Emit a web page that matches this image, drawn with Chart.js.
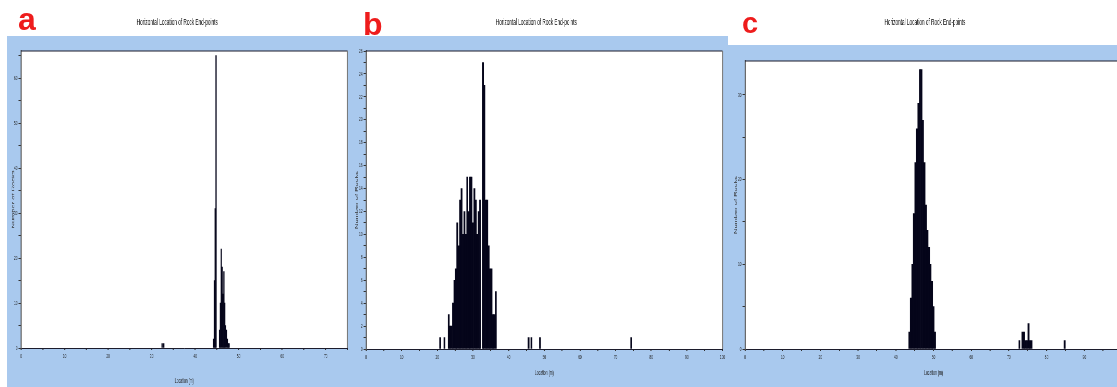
<!DOCTYPE html>
<html><head><meta charset="utf-8">
<script src="https://cdn.jsdelivr.net/npm/chart.js@4.4.0/dist/chart.umd.min.js"></script>
<style>
html,body{margin:0;padding:0;background:#fff;width:1117px;height:387px;overflow:hidden;position:relative;}
.panel{position:absolute;top:0;height:387px;transform-origin:0 0;}
.letter{position:absolute;color:#ee1c1c;font-weight:bold;font-family:'Liberation Sans',Arial,sans-serif;line-height:1;z-index:5;}
</style></head><body>
<div class="panel" id="pa"><canvas id="ca"></canvas></div>
<div class="panel" id="pb"><canvas id="cb"></canvas></div>
<div class="panel" id="pc"><canvas id="cc"></canvas></div>
<div class="letter" style="left:18px;top:3px;font-size:32px">a</div>
<div class="letter" style="left:363px;top:8px;font-size:32px">b</div>
<div class="letter" style="left:742px;top:9px;font-size:29px">c</div>
<script>
// ---------------- data ----------------
const titleText = 'Horizontal Location of Rock End-points';
const xTitle = 'Location (m)';
const yTitle = 'Number of Rocks';

// panel a
const aLocations = [32.4, 32.8, 44.2, 44.4, 44.6, 44.8, 45.6, 45.8, 46.0, 46.2, 46.4, 46.6, 46.8, 47.0, 47.2, 47.4, 47.6, 47.8];
const aCounts    = [1,    1,    2,    15,   31,   65,   4,    10,   22,   18,   12,   17,   10,   5,    4,    2,    1,    1];
const aXMax = 75, aYMax = 66, aXStep = 5, aYStep = 5;
const aXTickLabels = [0, 10, 20, 30, 40, 50, 60, 70];
const aYTickLabels = [0, 10, 20, 30, 40, 50, 60];

// panel b
const bLocations = [20.8, 22.0, 23.2, 23.6, 24.0, 24.4, 24.8, 25.2, 25.6, 26.0, 26.4, 26.8, 27.2, 27.6, 28.0, 28.4, 28.8, 29.2, 29.6, 30.0, 30.4, 30.8, 31.2, 31.6, 32.0, 32.8, 33.2, 33.6, 34.0, 34.4, 34.8, 35.2, 35.6, 36.0, 36.4, 45.6, 46.4, 48.8, 74.4];
const bCounts    = [1,    1,    3,    2,    2,    4,    6,    7,    11,   9,    13,   14,   10,   12,   10,   15,   12,   15,   15,   11,   14,   13,   10,   12,   13,   25,   23,   13,   13,   9,    7,    7,    3,    3,    5,    1,    1,    1,    1];
const bXMax = 100, bYMax = 26, bXStep = 5, bYStep = 1;
const bXTickLabels = [0, 10, 20, 30, 40, 50, 60, 70, 80, 90, 100];
const bYTickLabels = [0, 2, 4, 6, 8, 10, 12, 14, 16, 18, 20, 22, 24, 26];

// panel c
const cLocations = [43.6, 44.0, 44.4, 44.8, 45.2, 45.6, 46.0, 46.4, 46.8, 47.2, 47.6, 48.0, 48.4, 48.8, 49.2, 49.6, 50.0, 50.4, 72.8, 73.6, 74.0, 74.4, 74.8, 75.2, 75.6, 76.0, 84.8];
const cCounts    = [2,    6,    10,   16,   22,   26,   29,   33,   33,   27,   22,   17,   14,   12,   10,   8,    5,    2,    1,    2,    2,    1,    1,    3,    1,    1,    1];
const cXMax = 100, cYMax = 34, cXStep = 5, cYStep = 5;
const cXTickLabels = [0, 10, 20, 30, 40, 50, 60, 70, 80, 90, 100];
const cYTickLabels = [0, 10, 20, 30];

// ---------------- layout / style ----------------
const S = 0.52;          // horizontal squeeze of the original figure
const H = 387;
const BLUE = '#a9c9ee';
const BAR = '#05051a';
const layouts = {
  a: {left: 7,   width: 343, blueTop: 36, plotTop: 51, plotBottom: 348, plotLeft: 21,  plotRight: 347,  yTitleX: 13.3,  xTitleY: 381.5, titleY: 22.7},
  b: {left: 350, width: 378, blueTop: 36, plotTop: 51, plotBottom: 349, plotLeft: 366, plotRight: 722,  yTitleX: 356.7, xTitleY: 373.3, titleY: 23},
  c: {left: 728, width: 401, blueTop: 45, plotTop: 61, plotBottom: 349, plotLeft: 745, plotRight: 1122, yTitleX: 736,   xTitleY: 373.3, titleY: 23}
};

Chart.defaults.font.family = "'Liberation Sans', Arial, sans-serif";

const bgPlugin = {
  id: 'bg',
  beforeDraw(chart, args, opts) {
    const {ctx, width, height, chartArea: a} = chart;
    ctx.save();
    ctx.fillStyle = opts.color;
    ctx.fillRect(0, opts.top, width, height - opts.top);
    ctx.fillStyle = '#ffffff';
    ctx.fillRect(a.left, a.top, a.right - a.left, a.bottom - a.top);
    ctx.restore();
  }
};
const framePlugin = {
  id: 'frame',
  afterDraw(chart) {
    const {ctx, chartArea: a} = chart;
    ctx.save();
    ctx.fillStyle = '#1c1c2c';
    ctx.fillRect(a.left, a.top - 0.5, a.right - a.left, 1);
    ctx.fillStyle = '#777';
    ctx.fillRect(a.right - 1, a.top, 2, a.bottom - a.top);
    ctx.restore();
  }
};

function build(key, locs, counts, xMax, yMax, xStep, yStep, xLabels, yLabels) {
  const L = layouts[key];
  const div = document.getElementById('p' + key);
  div.style.left = L.left + 'px';
  div.style.width = (L.width / S) + 'px';
  div.style.transform = 'scaleX(' + S + ')';
  const points = locs.map((x, i) => ({x: x, y: counts[i]}));
  new Chart(document.getElementById('c' + key), {
    type: 'bar',
    data: {datasets: [{data: points, backgroundColor: BAR, borderWidth: 0, barPercentage: 1, categoryPercentage: 1}]},
    plugins: [bgPlugin, framePlugin],
    options: {
      responsive: true, maintainAspectRatio: false, animation: false, events: [],
      devicePixelRatio: 1,
      layout: {padding: {left: 0, right: (L.left + L.width - L.plotRight) / S, top: 0, bottom: 0}},
      plugins: {
        legend: {display: false}, tooltip: {enabled: false},
        title: {display: true, text: titleText, color: '#000',
          font: {size: 9, lineHeight: 1, weight: 'normal'},
          padding: {top: L.titleY - 4.5, bottom: L.plotTop - L.titleY - 4.5}},
        bg: {color: BLUE, top: L.blueTop}
      },
      scales: {
        x: {
          type: 'linear', min: 0, max: xMax, offset: false,
          ticks: {stepSize: xStep, autoSkip: false, maxRotation: 0, minRotation: 0, includeBounds: false,
            maxTicksLimit: 200, font: {size: 6}, color: '#222', padding: 3,
            callback: v => xLabels.includes(v) ? String(v) : ''},
          grid: {display: true, drawOnChartArea: false, drawTicks: true, tickLength: 2, color: '#333', lineWidth: 2, offset: false},
          border: {display: true, color: '#1c1c2c', width: 1},
          title: {display: true, text: xTitle, color: '#222', font: {size: 6.5, lineHeight: 1},
            padding: {top: 0, bottom: H - L.xTitleY - 3.25}},
          afterFit: s => { s.height = H - L.plotBottom; }
        },
        y: {
          type: 'linear', min: 0, max: yMax,
          ticks: {stepSize: yStep, autoSkip: false, includeBounds: false, maxTicksLimit: 200,
            font: {size: 6}, color: '#222', padding: 1 / S,
            callback: v => yLabels.includes(v) ? String(v) : ''},
          grid: {display: true, drawOnChartArea: false, drawTicks: true, tickLength: 2.5 / S, color: '#333', lineWidth: 1},
          border: {display: true, color: '#555', width: 2},
          title: {display: true, text: yTitle, color: '#333', font: {size: 7.5, lineHeight: 1},
            padding: {top: (L.yTitleX - L.left) / S - 3.75, bottom: 0}},
          afterFit: s => { s.width = (L.plotLeft - L.left) / S; }
        }
      }
    }
  });
}

build('a', aLocations, aCounts, aXMax, aYMax, aXStep, aYStep, aXTickLabels, aYTickLabels);
build('b', bLocations, bCounts, bXMax, bYMax, bXStep, bYStep, bXTickLabels, bYTickLabels);
build('c', cLocations, cCounts, cXMax, cYMax, cXStep, cYStep, cXTickLabels, cYTickLabels);
</script>
</body></html>
